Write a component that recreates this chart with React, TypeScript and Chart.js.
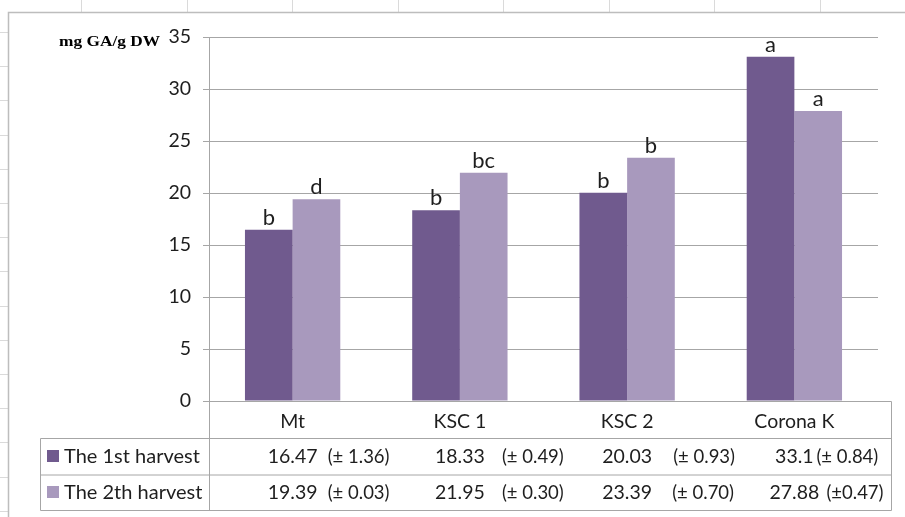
import React, { useEffect, useRef } from "react";
import { Chart, registerables } from "chart.js";

Chart.register(...registerables);

// Cultivars on the category axis
const categories: string[] = ["Mt", "KSC 1", "KSC 2", "Corona K"];

// Series names shown in the data table
const seriesNames: string[] = ["The 1st harvest", "The 2th harvest"];

// Mean GA content (mg GA/g DW) per harvest
const harvest1: number[] = [16.47, 18.33, 20.03, 33.1];
const harvest2: number[] = [19.39, 21.95, 23.39, 27.88];

// Standard deviations as printed in the table
const harvest1Sd: string[] = ["(± 1.36)", "(± 0.49)", "(± 0.93)", "(± 0.84)"];
const harvest2Sd: string[] = ["(± 0.03)", "(± 0.30)", "(± 0.70)", "(±0.47)"];

// Significance letters above each bar
const harvest1Letters: string[] = ["b", "b", "b", "a"];
const harvest2Letters: string[] = ["d", "bc", "b", "a"];

// Value axis
const yMin = 0;
const yMax = 35;
const yStep = 5;
const yTitle = "mg GA/g DW";

const COLORS = ["#705a8e", "#a899bd"];
const SANS = "Lato, 'Open Sans', sans-serif";
const LINE = "#a6a6a6";
const TEXT = "#1e1e1e";

// horizontal offset of the "(± sd)" text from the category centre, per row
const sdOffsets: number[][] = [
  [35, 42, 46, 22],
  [35, 42, 45, 32],
];

const tablePlugin = {
  id: "dataTable",
  beforeDraw(chart: any) {
    const ctx: CanvasRenderingContext2D = chart.ctx;
    const W = chart.width;
    const H = chart.height;
    ctx.save();
    ctx.fillStyle = "#ffffff";
    ctx.fillRect(0, 0, W, H);
    // spreadsheet cell marks around the chart frame
    ctx.strokeStyle = "#dadada";
    ctx.lineWidth = 1;
    ctx.beginPath();
    for (let x = 81; x < W; x += 105.5) {
      ctx.moveTo(Math.round(x) + 0.5, 0);
      ctx.lineTo(Math.round(x) + 0.5, 12);
    }
    for (let y = 32; y < H; y += 34.2) {
      ctx.moveTo(0, Math.round(y) + 0.5);
      ctx.lineTo(8, Math.round(y) + 0.5);
    }
    ctx.stroke();
    // chart frame
    ctx.strokeStyle = "#bdbdbd";
    ctx.lineWidth = 1.5;
    ctx.beginPath();
    ctx.moveTo(8.5, H);
    ctx.lineTo(8.5, 12.5);
    ctx.lineTo(W, 12.5);
    ctx.stroke();
    ctx.restore();
  },
  afterDraw(chart: any) {
    const ctx: CanvasRenderingContext2D = chart.ctx;
    const xs = chart.scales.x;
    const ys = chart.scales.y;
    const area = chart.chartArea;
    const axisX = Math.round(area.left) + 0.5;
    const zeroY = Math.round(ys.getPixelForValue(0)) + 0.5;
    const tableRight = 891.5;
    const tableLeft = 40.5;
    const row1Top = zeroY + 37;
    const row2Top = zeroY + 73.5;
    const tableBottom = zeroY + 109;

    ctx.save();

    // axis title
    ctx.fillStyle = "#000";
    ctx.font = "bold 14px 'Liberation Serif', 'Times New Roman', serif";
    ctx.textBaseline = "alphabetic";
    ctx.textAlign = "left";
    const tw = ctx.measureText(yTitle).width;
    ctx.save();
    ctx.translate(59, 46);
    ctx.scale(101 / tw, 1);
    ctx.fillText(yTitle, 0, 0);
    ctx.restore();

    // significance letters
    ctx.fillStyle = TEXT;
    ctx.font = `22px ${SANS}`;
    ctx.textAlign = "center";
    ctx.textBaseline = "alphabetic";
    const letterSets = [harvest1Letters, harvest2Letters];
    letterSets.forEach((letters, di) => {
      const meta = chart.getDatasetMeta(di);
      meta.data.forEach((bar: any, i: number) => {
        ctx.fillText(letters[i], bar.x, bar.y - 5);
      });
    });

    // table grid
    ctx.strokeStyle = LINE;
    ctx.lineWidth = 1;
    ctx.beginPath();
    ctx.moveTo(axisX, zeroY);
    ctx.lineTo(tableRight, zeroY);
    ctx.moveTo(axisX, zeroY);
    ctx.lineTo(axisX, tableBottom);
    ctx.moveTo(tableRight, zeroY);
    ctx.lineTo(tableRight, tableBottom);
    ctx.moveTo(tableLeft, row1Top);
    ctx.lineTo(tableRight, row1Top);
    ctx.moveTo(tableLeft, row2Top);
    ctx.lineTo(tableRight, row2Top);
    ctx.moveTo(tableLeft, tableBottom);
    ctx.lineTo(tableRight, tableBottom);
    ctx.moveTo(tableLeft, row1Top);
    ctx.lineTo(tableLeft, tableBottom);
    ctx.stroke();

    // category labels
    ctx.fillStyle = TEXT;
    ctx.font = `19.5px ${SANS}`;
    ctx.textAlign = "center";
    categories.forEach((c, i) => {
      ctx.fillText(c, xs.getPixelForValue(i), zeroY + 26.5);
    });

    // legend keys and series rows
    const rows = [
      { vals: harvest1, sds: harvest1Sd, base: row1Top + 24.5 },
      { vals: harvest2, sds: harvest2Sd, base: row2Top + 24 },
    ];
    rows.forEach((row, r) => {
      ctx.fillStyle = COLORS[r];
      ctx.fillRect(47, row.base - 13, 12, 12);
      ctx.fillStyle = TEXT;
      ctx.font = `20px ${SANS}`;
      ctx.textAlign = "left";
      ctx.fillText(seriesNames[r], 64, row.base);
      row.vals.forEach((v, i) => {
        const cx = xs.getPixelForValue(i);
        ctx.font = `19.5px ${SANS}`;
        ctx.textAlign = "center";
        ctx.fillText(String(v), cx, row.base);
        ctx.font = `18.5px ${SANS}`;
        ctx.textAlign = "left";
        ctx.fillText(row.sds[i], cx + sdOffsets[r][i], row.base);
      });
    });

    ctx.restore();
  },
};

export default function App() {
  const ref = useRef<HTMLCanvasElement | null>(null);

  useEffect(() => {
    if (!ref.current) return;
    const chart = new Chart(ref.current, {
      type: "bar",
      data: {
        labels: categories,
        datasets: [
          {
            label: seriesNames[0],
            data: harvest1,
            backgroundColor: COLORS[0],
            barPercentage: 1,
            categoryPercentage: 0.57,
          },
          {
            label: seriesNames[1],
            data: harvest2,
            backgroundColor: COLORS[1],
            barPercentage: 1,
            categoryPercentage: 0.57,
          },
        ],
      },
      options: {
        responsive: false,
        animation: false,
        devicePixelRatio: 1,
        layout: { padding: { left: 0, right: 27, top: 37, bottom: 116 } },
        plugins: {
          legend: { display: false },
          tooltip: { enabled: false },
          title: { display: false },
        },
        scales: {
          x: {
            display: false,
            grid: { display: false },
          },
          y: {
            min: yMin,
            max: yMax,
            afterFit: (scale: any) => {
              scale.width = 209;
            },
            ticks: {
              stepSize: yStep,
              padding: 12,
              color: TEXT,
              font: { family: SANS, size: 19.5 },
            },
            grid: {
              color: LINE,
              lineWidth: 1,
              tickLength: 6,
              drawTicks: true,
            },
            border: { display: true, color: LINE, width: 1 },
          },
        },
      },
      plugins: [tablePlugin],
    });
    return () => chart.destroy();
  }, []);

  return (
    <div style={{ position: "fixed", left: 0, top: 0, width: 905, height: 517, background: "#fff" }}>
      <canvas ref={ref} width={905} height={517} style={{ display: "block" }} />
    </div>
  );
}
